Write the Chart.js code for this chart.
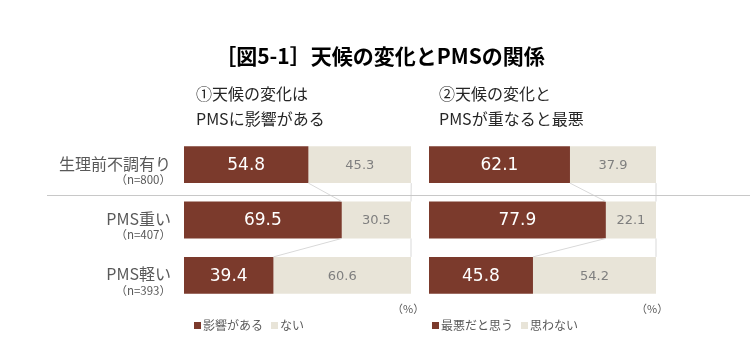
<!DOCTYPE html>
<html lang="ja">
<head>
<meta charset="utf-8">
<script src="https://cdn.jsdelivr.net/npm/chart.js@4/dist/chart.umd.min.js"></script>
<style>
  body { margin: 0; width: 750px; height: 360px; background: #fff; position: relative; overflow: hidden;
         font-family: "Noto Sans CJK JP", "Noto Sans", sans-serif; }
  canvas { position: absolute; top: 0; }
  .txt { position: absolute; white-space: nowrap; }
  #title { left: 380px; top: 41px; transform: translateX(-50%); font-size: 21px; font-weight: bold; line-height: 28px; color: #000; }
  .sub { font-size: 16px; line-height: 22px; color: #262626; }
  .pct { font-size: 11px; line-height: 14px; color: #595959; }
  .legend { display: flex; align-items: center; font-size: 12px; line-height: 16px; color: #595959; }
  .legend .sq { display: inline-block; width: 7px; height: 7px; margin-right: 2px; }
  .legend .item { display: flex; align-items: center; margin-right: 8px; }
</style>
</head>
<body>
<canvas id="leftChart" width="420" height="360" style="left:0"></canvas>
<canvas id="rightChart" width="330" height="360" style="left:420px"></canvas>

<div id="title" class="txt">［図5-1］天候の変化とPMSの関係</div>
<div class="txt sub" style="left:196px; top:82px">①天候の変化は</div>
<div class="txt sub" style="left:196px; top:107px">PMSに影響がある</div>
<div class="txt sub" style="left:439px; top:82px">②天候の変化と</div>
<div class="txt sub" style="left:439px; top:107px">PMSが重なると最悪</div>
<div class="txt pct" style="left:392px; top:301px">（%）</div>
<div class="txt pct" style="left:636px; top:301px">（%）</div>
<div id="leftLegend" class="txt legend" style="left:194px; top:317px"></div>
<div id="rightLegend" class="txt legend" style="left:432px; top:317px"></div>

<script>
// Data
const categories = ["生理前不調有り", "PMS重い", "PMS軽い"];
const sampleSizes = ["（n=800）", "（n=407）", "（n=393）"];
const leftYes = [54.8, 69.5, 39.4];
const leftNo = [45.3, 30.5, 60.6];
const rightYes = [62.1, 77.9, 45.8];
const rightNo = [37.9, 22.1, 54.2];
const leftLegend = ["影響がある", "ない"];
const rightLegend = ["最悪だと思う", "思わない"];

const DARK = "#7b3a2c";
const LIGHT = "#e8e4d8";
const LINE = "#d9d9d9";

// Value labels inside the bars
const valueLabels = {
    id: "valueLabels",
    afterDatasetsDraw(chart) {
        const ctx = chart.ctx;
        ctx.save();
        ctx.textAlign = "center";
        ctx.textBaseline = "middle";
        chart.data.datasets.forEach((ds, di) => {
            const meta = chart.getDatasetMeta(di);
            meta.data.forEach((bar, i) => {
                if (di === 0) {
                    ctx.font = "17px 'DejaVu Sans'";
                    ctx.fillStyle = "#ffffff";
                } else {
                    ctx.font = "13px 'DejaVu Sans'";
                    ctx.fillStyle = "#7f7f7f";
                }
                ctx.fillText(ds.data[i].toFixed(1), (bar.x + bar.base) / 2, bar.y + 1);
            });
        });
        ctx.restore();
    }
};

// Series lines between bar ends + separator under first row
const seriesLines = {
    id: "seriesLines",
    afterDatasetsDraw(chart, args, opts) {
        const ctx = chart.ctx;
        ctx.save();
        ctx.strokeStyle = LINE;
        ctx.lineWidth = 1;
        chart.data.datasets.forEach((ds, di) => {
            const bars = chart.getDatasetMeta(di).data;
            for (let i = 0; i < bars.length - 1; i++) {
                const a = bars[i], b = bars[i + 1];
                ctx.beginPath();
                ctx.moveTo(a.x, a.y + a.height / 2);
                ctx.lineTo(b.x, b.y - b.height / 2);
                ctx.stroke();
            }
        });
        // separator
        const y = Math.round(chart.scales.y.getPixelForValue(0.5) + 3) + 0.5;
        ctx.strokeStyle = "#c8c8c8";
        ctx.beginPath();
        ctx.moveTo(opts.from, y);
        ctx.lineTo(chart.width, y);
        ctx.stroke();
        ctx.restore();
    }
};

// Category labels on the left chart
const categoryLabels = {
    id: "categoryLabels",
    afterDraw(chart, args, opts) {
        if (!opts.show) return;
        const ctx = chart.ctx;
        const y = chart.scales.y;
        ctx.save();
        ctx.textAlign = "right";
        ctx.textBaseline = "middle";
        ctx.fillStyle = "#595959";
        categories.forEach((c, i) => {
            const py = y.getPixelForValue(i);
            ctx.font = "16px 'Noto Sans CJK JP'";
            ctx.fillText(c, 171, py - 1);
            ctx.font = "11.5px 'Noto Sans CJK JP'";
            ctx.fillText(sampleSizes[i], 171, py + 15);
        });
        ctx.restore();
    }
};

function makeChart(id, yes, no, names, padLeft, padRight, showCats) {
    return new Chart(document.getElementById(id), {
        type: "bar",
        data: {
            labels: categories,
            datasets: [
                { label: names[0], data: yes, backgroundColor: DARK },
                { label: names[1], data: no, backgroundColor: LIGHT }
            ]
        },
        options: {
            indexAxis: "y",
            responsive: false,
            animation: false,
            layout: { padding: { left: padLeft, right: padRight, top: 137, bottom: 57 } },
            datasets: { bar: { categoryPercentage: 1, barPercentage: 0.667, borderWidth: 0 } },
            scales: {
                x: { stacked: true, min: 0, max: 100, display: false },
                y: { stacked: true, display: false }
            },
            plugins: {
                legend: { display: false },
                tooltip: { enabled: false },
                seriesLines: { from: showCats ? 47 : 0 },
                categoryLabels: { show: showCats }
            }
        },
        plugins: [seriesLines, valueLabels, categoryLabels]
    });
}

function buildLegend(elId, names) {
    const el = document.getElementById(elId);
    const colors = [DARK, LIGHT];
    names.forEach((n, i) => {
        const item = document.createElement("span");
        item.className = "item";
        item.innerHTML = `<span class="sq" style="background:${colors[i]}"></span>${n}`;
        el.appendChild(item);
    });
}

makeChart("leftChart", leftYes, leftNo, leftLegend, 184, 9, true);
makeChart("rightChart", rightYes, rightNo, rightLegend, 9, 94, false);
buildLegend("leftLegend", leftLegend);
buildLegend("rightLegend", rightLegend);
</script>
</body>
</html>
